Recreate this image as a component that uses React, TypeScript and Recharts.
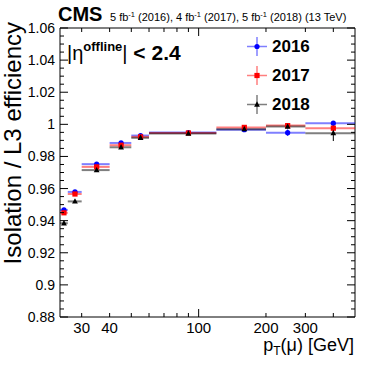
import {
  ComposedChart,
  Customized,
  ErrorBar,
  Legend,
  ReferenceArea,
  Scatter,
  XAxis,
  YAxis,
} from "recharts";

// pT bins [GeV]
const binLow = [24, 26, 30, 40, 50, 60, 120, 200, 300];
const binHigh = [26, 30, 40, 50, 60, 120, 200, 300, 500];

// efficiency per year
const eff2016 = [0.9467, 0.9579, 0.9752, 0.9884, 0.993, 0.9949, 0.9967, 0.9948, 1.0007];
const eff2017 = [0.9449, 0.9566, 0.9735, 0.987, 0.9922, 0.9946, 0.9981, 0.9992, 0.9976];
const eff2018 = [0.9384, 0.952, 0.9715, 0.9857, 0.9916, 0.9943, 0.997, 0.9986, 0.9945];
const err2016 = [0.0008, 0.0008, 0.0008, 0.0006, 0.0006, 0.0004, 0.0008, 0.002, 0.0012];
const err2017 = [0.0008, 0.0008, 0.0008, 0.0006, 0.0006, 0.0004, 0.0008, 0.0012, 0.002];
const err2018 = [0.001, 0.001, 0.0008, 0.0006, 0.0006, 0.0004, 0.0008, 0.0012, 0.0049];

const xTicks = [30, 40, 50, 60, 70, 80, 90, 100, 200, 300, 400];
const xLabels = [30, 40, 100, 200, 300];

const FONT = "'Liberation Sans', Arial, Helvetica, sans-serif";
const PLOT_W = 295;
const PLOT_H = 289;

// y ticks every 0.005, labelled every 0.02
const yTicks: number[] = [];
for (let i = 880; i <= 1060; i += 5) yTicks.push(i / 1000);

function rows(eff: number[], err: number[]) {
  return eff.map((y, i) => {
    const x = (binLow[i] + binHigh[i]) / 2;
    return { x, y, xerr: [x - binLow[i], binHigh[i] - x], yerr: err[i] };
  });
}

const series = [
  { name: "2016", color: "#0000ff", data: rows(eff2016, err2016), marker: "circle" },
  { name: "2017", color: "#ff0000", data: rows(eff2017, err2017), marker: "square" },
  { name: "2018", color: "#000000", data: rows(eff2018, err2018), marker: "triangle" },
];

function Marker({ kind, cx, cy, color }: { kind: string; cx: number; cy: number; color: string }) {
  if (kind === "circle") return <circle cx={cx} cy={cy} r={2.6} fill={color} />;
  if (kind === "square") return <rect x={cx - 2.6} y={cy - 2.6} width={5.2} height={5.2} fill={color} />;
  return <polygon points={`${cx},${cy - 3.2} ${cx + 2.9},${cy + 2.2} ${cx - 2.9},${cy + 2.2}`} fill={color} />;
}

const XTick = (props: any) => {
  const { x, y, payload } = props;
  const v = payload.value;
  const len = v === 100 ? 8 : 4;
  return (
    <g>
      <line x1={x} x2={x} y1={y} y2={y - len} stroke="#000" />
      <line x1={x} x2={x} y1={y - PLOT_H} y2={y - PLOT_H + len} stroke="#000" />
      {xLabels.includes(v) && (
        <text x={x} y={y + 16} textAnchor="middle" fontSize={15} fontFamily={FONT} fill="#000">
          {v}
        </text>
      )}
    </g>
  );
};

const YTick = (props: any) => {
  const { x, y, payload } = props;
  const v = payload.value;
  const major = Math.round(v * 1000) % 20 === 0;
  const len = major ? 8 : 4;
  return (
    <g>
      <line x1={x} x2={x + len} y1={y} y2={y} stroke="#000" />
      <line x1={x + PLOT_W} x2={x + PLOT_W - len} y1={y} y2={y} stroke="#000" />
      {major && (
        <text x={x - 5} y={y + 5} textAnchor="end" fontSize={14} fontFamily={FONT} fill="#000">
          {String(Math.round(v * 1000) / 1000)}
        </text>
      )}
    </g>
  );
};

const Annotations = () => (
  <g fontFamily={FONT} fill="#000">
    <text x={58} y={21} fontSize={20} fontWeight="bold">CMS</text>
    <text x={110} y={21} fontSize={11}>
      5 fb<tspan dy={-4} fontSize={7.5}>-1</tspan>
      <tspan dy={4}> (2016), 4 fb</tspan>
      <tspan dy={-4} fontSize={7.5}>-1</tspan>
      <tspan dy={4}> (2017), 5 fb</tspan>
      <tspan dy={-4} fontSize={7.5}>-1</tspan>
      <tspan dy={4}> (2018) (13 TeV)</tspan>
    </text>
    <text x={67} y={60} fontSize={20}>
      |η
      <tspan dy={-9} fontSize={13} fontWeight="bold">offline</tspan>
      <tspan dy={9}>|</tspan>
      <tspan fontWeight="bold" fontSize={21}> &lt; 2.4</tspan>
    </text>
    <text transform="rotate(-90)" x={-22} y={21} textAnchor="end" fontSize={24}>
      Isolation / L3 efficiency
    </text>
    <text x={354} y={351} textAnchor="end" fontSize={18}>
      p<tspan dy={4} fontSize={12}>T</tspan>
      <tspan dy={-4}>(μ) [GeV]</tspan>
    </text>
  </g>
);

const LegendBox = () => (
  <div style={{ fontFamily: FONT }}>
    {series.map((s) => (
      <div key={s.name} style={{ display: "flex", alignItems: "center", height: 29 }}>
        <svg width={32} height={29}>
          <line x1={7} x2={27} y1={14.5} y2={14.5} stroke={s.color} strokeOpacity={0.5} strokeWidth={1.5} />
          <line x1={17} x2={17} y1={5} y2={24} stroke={s.color} strokeOpacity={0.5} strokeWidth={1.5} />
          <Marker kind={s.marker} cx={17} cy={14.5} color={s.color} />
        </svg>
        <span style={{ fontSize: 17, fontWeight: "bold", color: "#000" }}>{s.name}</span>
      </div>
    ))}
  </div>
);

export default function App() {
  return (
    <div style={{ position: "absolute", left: 0, top: 0, background: "#fff" }}>
      <ComposedChart width={374} height={372} margin={{ top: 28, right: 19, bottom: 0, left: 0 }}>
        <XAxis
          type="number"
          dataKey="x"
          scale="log"
          domain={[24, 500]}
          allowDataOverflow
          ticks={xTicks}
          interval={0}
          tickSize={0}
          tickMargin={0}
          axisLine={false}
          tickLine={false}
          tick={XTick}
          height={55}
        />
        <YAxis
          type="number"
          dataKey="y"
          domain={[0.88, 1.06]}
          allowDataOverflow
          ticks={yTicks}
          interval={0}
          tickSize={0}
          tickMargin={0}
          axisLine={false}
          tickLine={false}
          tick={YTick}
          width={60}
        />
        <ReferenceArea x1={24} x2={500} y1={0.88} y2={1.06} fill="none" stroke="#000" strokeWidth={1} ifOverflow="visible" />
        {series.map((s) => (
          <Scatter
            key={s.name}
            name={s.name}
            data={s.data}
            isAnimationActive={false}
            shape={(p: any) => <Marker kind={s.marker} cx={p.cx} cy={p.cy} color={s.color} />}
          >
            <ErrorBar dataKey="xerr" direction="x" width={0} stroke={s.color} strokeOpacity={0.5} strokeWidth={2} isAnimationActive={false} />
            <ErrorBar dataKey="yerr" direction="y" width={0} stroke={s.color} strokeWidth={1} isAnimationActive={false} />
          </Scatter>
        ))}
        <Legend
          layout="horizontal"
          verticalAlign="middle"
          align="center"
          wrapperStyle={{ left: 240, top: 32, width: "auto" }}
          content={LegendBox}
        />
        <Customized component={Annotations} />
      </ComposedChart>
    </div>
  );
}
